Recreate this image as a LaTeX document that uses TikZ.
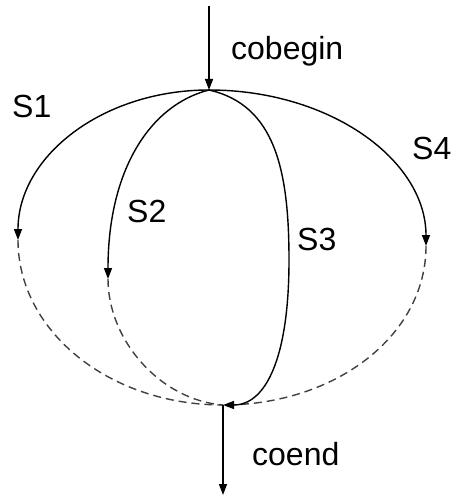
\documentclass[tikz,border=0pt]{standalone}
\usepackage{fontspec}
\setmainfont{Liberation Sans}
\usetikzlibrary{arrows.meta}
\begin{document}
\begin{tikzpicture}[x=1pt,y=-1pt,
  lbl/.style={inner sep=0pt,anchor=base west,font=\fontsize{32}{36}\selectfont},
  solidarc/.style={line width=1.4pt,-{Triangle[length=11pt,width=8pt]}},
  dasharc/.style={line width=1.4pt,dash pattern=on 8pt off 5pt,draw=black!75},
  flow/.style={line width=1.4pt,-{Triangle[length=11pt,width=8pt]}}]
\useasboundingbox (0,0) rectangle (452,497);
\coordinate (in) at (209,6);
\coordinate (T) at (209,90);
\coordinate (B) at (223,405);
\coordinate (out) at (223,495);
\coordinate (E1) at (18,240);
\coordinate (E2) at (108,279);
\coordinate (E4) at (426,246);
% dashed lower halves
\draw[dasharc] (E1) .. controls (18,331) and (109,405) .. (B);
\draw[dasharc] (E4) .. controls (426,336) and (335,405) .. (B);
\draw[dasharc] (E2) .. controls (108,340) and (160,400) .. (B);
% solid branches
\draw[solidarc] (T) .. controls (103,90) and (18,156) .. (E1);
\draw[solidarc] (T) .. controls (150,105) and (108,170) .. (E2);
\draw[solidarc] (T) .. controls (330,90) and (426,160) .. (E4);
\draw[solidarc] (T) .. controls (275,105) and (289,170) .. (289,260) .. controls (289,360) and (265,405) .. (B);
% in/out
\draw[flow] (in) -- (T);
\draw[flow] (B) -- (out);
% labels
\node[lbl] (cobegin) at (231,60) {cobegin};
\node[lbl] (coend) at (252,465) {coend};
\node[lbl] (S1) at (12,118) {S1};
\node[lbl] (S2) at (127,222) {S2};
\node[lbl] (S3) at (297,250) {S3};
\node[lbl] (S4) at (412,159) {S4};
\end{tikzpicture}
\end{document}
